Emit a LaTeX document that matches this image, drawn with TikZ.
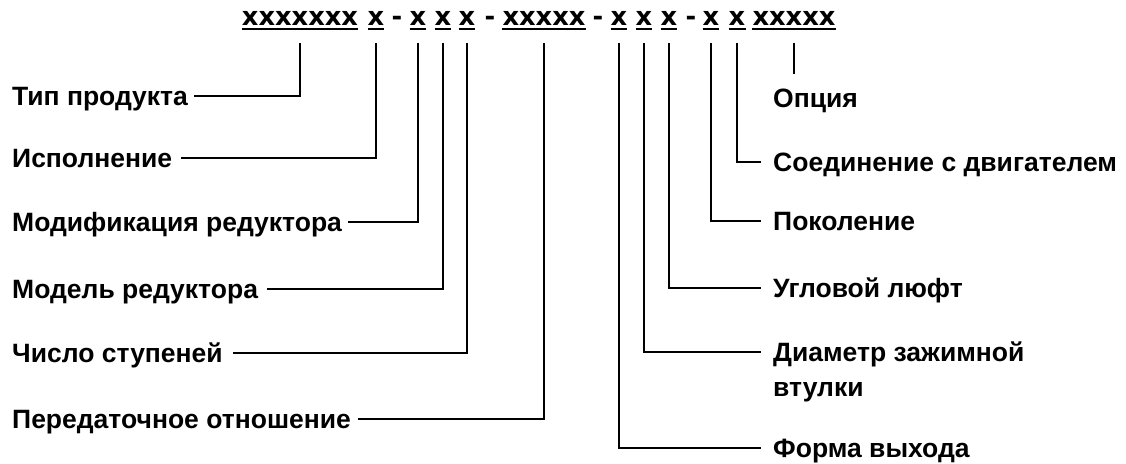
\documentclass[tikz,border=0pt]{standalone}
\usepackage{fontspec}
\newfontfamily\labfamily{Liberation Sans}
\newfontfamily\topfamily{DejaVu Sans}
\begin{document}
\begin{tikzpicture}[x=1pt,y=-1pt,
  tok/.style={font=\topfamily\bfseries\fontsize{25.7}{30}\selectfont, inner sep=0pt, anchor=base},
  lab/.style={font=\labfamily\bfseries\fontsize{26.5}{35}\selectfont, inner sep=0pt, text height=19pt, text depth=0pt},
  labL/.style={lab, anchor=west},
  labR/.style={lab, anchor=west},
  conn/.style={draw=black, line width=2pt},
  ul/.style={draw=black, line width=2pt}]
\useasboundingbox (0,0) rectangle (1126,463);
% code tokens
\node[tok] (t1)  at (300,25) {xxxxxxx};
\node[tok] (t2)  at (376,25) {x};
\node[tok] (h1)  at (397,25) {-};
\node[tok] (t3)  at (418,25) {x};
\node[tok] (t4)  at (443,25) {x};
\node[tok] (t5)  at (467,25) {x};
\node[tok] (h2)  at (490,25) {-};
\node[tok] (t6)  at (544,25) {xxxxx};
\node[tok] (h3)  at (598,25) {-};
\node[tok] (t7)  at (619,25) {x};
\node[tok] (t8)  at (644,25) {x};
\node[tok] (t9)  at (669,25) {x};
\node[tok] (h4)  at (691,25) {-};
\node[tok] (t10) at (711,25) {x};
\node[tok] (t11) at (737,25) {x};
\node[tok] (t12) at (794,25) {xxxxx};
\foreach \t in {t1,t2,t3,t4,t5,t6,t7,t8,t9,t10,t11,t12}{
  \draw[ul] ([yshift=-3.5pt]\t.base west) -- ([yshift=-3.5pt]\t.base east);
}
% left labels
\node[labL] (l1) at (12,96)  {Тип продукта};
\node[labL] (l2) at (12,158) {Исполнение};
\node[labL] (l3) at (12,222) {Модификация редуктора};
\node[labL] (l4) at (12,289) {Модель редуктора};
\node[labL] (l5) at (12,353) {Число ступеней};
\node[labL] (l6) at (12,419) {Передаточное отношение};
% right labels
\node[labR] (r0) at (773,98)  {Опция};
\node[labR] (r1) at (773,162) {Соединение с двигателем};
\node[labR] (r2) at (773,221) {Поколение};
\node[labR] (r3) at (773,288) {Угловой люфт};
\node[labR] (r4) at (773,352) {Диаметр зажимной};
\node[labR] (r4b) at (773,387) {втулки};
\node[labR] (r5) at (773,448) {Форма выхода};
% connectors, left
\draw[conn] ([yshift=-18pt]t1.base) |- ([xshift=6pt]l1.east);
\draw[conn] ([yshift=-18pt]t2.base) |- ([xshift=9pt]l2.east);
\draw[conn] ([yshift=-18pt]t3.base) |- ([xshift=6pt]l3.east);
\draw[conn] ([yshift=-18pt]t4.base) |- ([xshift=9pt]l4.east);
\draw[conn] ([yshift=-18pt]t5.base) |- ([xshift=10pt]l5.east);
\draw[conn] ([yshift=-18pt]t6.base) |- ([xshift=7pt]l6.east);
% connectors, right
\draw[conn] ([yshift=-18pt]t12.base) -- ([yshift=14.5pt]r0.north -| t12.base);
\draw[conn] ([yshift=-18pt]t11.base) |- ([xshift=-12pt]r1.west);
\draw[conn] ([yshift=-18pt]t10.base) |- ([xshift=-12pt]r2.west);
\draw[conn] ([yshift=-18pt]t9.base) |- ([xshift=-12pt]r3.west);
\draw[conn] ([yshift=-18pt]t8.base) |- ([xshift=-12pt]r4.west);
\draw[conn] ([yshift=-18pt]t7.base) |- ([xshift=-12pt]r5.west);
\end{tikzpicture}
\end{document}
